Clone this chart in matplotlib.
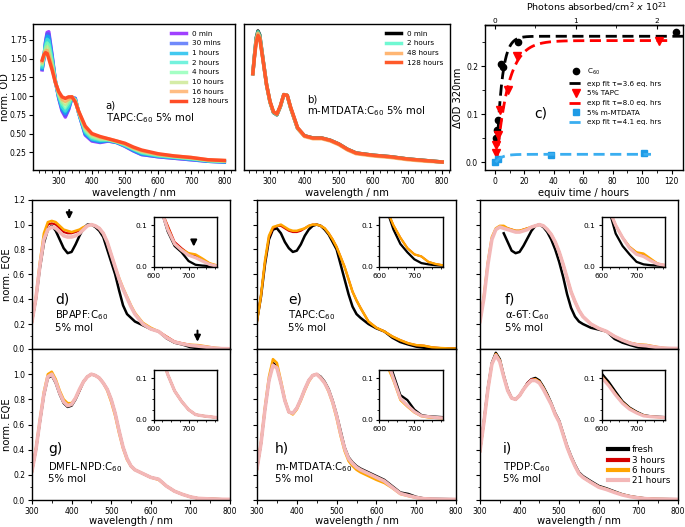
import numpy as np
import matplotlib.pyplot as plt
from matplotlib.ticker import MultipleLocator

plt.rcParams['font.family'] = ['DejaVu Sans']
plt.rcParams['font.size'] = 5.5
plt.rcParams['axes.linewidth'] = 1.0
plt.rcParams['xtick.major.pad'] = 2
plt.rcParams['ytick.major.pad'] = 2
plt.rcParams['xtick.major.size'] = 3
plt.rcParams['ytick.major.size'] = 3

### a) absorption TAPC:C60, normalised spectra vs. illumination time
wl_abs = [250, 255, 260, 265, 270, 280, 290, 300, 310, 320, 330, 340, 350, 360,
          380, 400, 425, 450, 475, 500, 525, 550, 600, 650, 700, 750, 800]
a_0min = [1.35, 1.50, 1.72, 1.85, 1.86, 1.55, 1.20, 0.97, 0.80, 0.72, 0.82, 0.98, 0.97, 0.78,
          0.48, 0.40, 0.38, 0.40, 0.38, 0.33, 0.27, 0.22, 0.19, 0.17, 0.15, 0.13, 0.12]
a_30min = [1.36, 1.50, 1.71, 1.83, 1.83, 1.53, 1.20, 0.98, 0.82, 0.74, 0.83, 0.98, 0.97, 0.78,
           0.49, 0.41, 0.39, 0.40, 0.38, 0.33, 0.27, 0.22, 0.19, 0.17, 0.15, 0.13, 0.12]
a_1h = [1.37, 1.51, 1.69, 1.80, 1.79, 1.51, 1.20, 0.99, 0.83, 0.77, 0.85, 0.98, 0.96, 0.78,
        0.50, 0.42, 0.39, 0.41, 0.38, 0.34, 0.28, 0.23, 0.20, 0.18, 0.16, 0.13, 0.12]
a_2h = [1.39, 1.52, 1.68, 1.76, 1.74, 1.49, 1.19, 1.00, 0.86, 0.80, 0.87, 0.98, 0.95, 0.79,
        0.52, 0.43, 0.41, 0.41, 0.39, 0.34, 0.29, 0.24, 0.20, 0.18, 0.16, 0.14, 0.13]
a_4h = [1.42, 1.53, 1.65, 1.71, 1.68, 1.45, 1.19, 1.02, 0.90, 0.85, 0.91, 0.99, 0.95, 0.79,
        0.54, 0.45, 0.42, 0.42, 0.39, 0.35, 0.30, 0.25, 0.21, 0.19, 0.17, 0.14, 0.13]
a_10h = [1.44, 1.53, 1.62, 1.66, 1.62, 1.41, 1.19, 1.03, 0.93, 0.89, 0.94, 0.99, 0.94, 0.79,
         0.56, 0.47, 0.43, 0.42, 0.39, 0.36, 0.30, 0.26, 0.22, 0.19, 0.17, 0.14, 0.13]
a_16h = [1.46, 1.54, 1.60, 1.61, 1.55, 1.38, 1.18, 1.05, 0.96, 0.93, 0.96, 0.99, 0.93, 0.80,
         0.58, 0.49, 0.45, 0.43, 0.40, 0.36, 0.31, 0.27, 0.22, 0.20, 0.18, 0.15, 0.14]
a_128h = [1.48, 1.55, 1.58, 1.57, 1.50, 1.35, 1.18, 1.06, 0.99, 0.97, 0.99, 0.99, 0.92, 0.80,
          0.60, 0.50, 0.46, 0.43, 0.40, 0.37, 0.32, 0.28, 0.23, 0.20, 0.18, 0.15, 0.14]
a_labels = ['0 min', '30 mins', '1 hours', '2 hours', '4 hours', '10 hours', '16 hours', '128 hours']

### b) absorption m-MTDATA:C60
b_0min = [1.30, 1.55, 1.78, 1.87, 1.82, 1.48, 1.15, 0.92, 0.78, 0.75, 0.86, 1.02, 1.01, 0.84,
          0.57, 0.47, 0.44, 0.44, 0.41, 0.36, 0.29, 0.24, 0.21, 0.19, 0.16, 0.14, 0.12]
b_2h = [1.30, 1.55, 1.77, 1.86, 1.81, 1.48, 1.15, 0.92, 0.78, 0.75, 0.86, 1.02, 1.01, 0.84,
        0.57, 0.47, 0.44, 0.44, 0.41, 0.36, 0.29, 0.24, 0.21, 0.19, 0.16, 0.14, 0.12]
b_48h = [1.30, 1.54, 1.75, 1.84, 1.79, 1.47, 1.15, 0.92, 0.79, 0.76, 0.86, 1.02, 1.01, 0.84,
         0.57, 0.46, 0.43, 0.43, 0.40, 0.35, 0.28, 0.23, 0.20, 0.18, 0.15, 0.13, 0.12]
b_128h = [1.30, 1.53, 1.72, 1.81, 1.77, 1.47, 1.15, 0.93, 0.79, 0.76, 0.87, 1.02, 1.01, 0.85,
          0.58, 0.47, 0.44, 0.44, 0.41, 0.36, 0.29, 0.24, 0.21, 0.19, 0.16, 0.14, 0.12]
b_labels = ['0 min', '2 hours', '48 hours', '128 hours']

### c) delta OD at 320 nm vs. equivalent time
c60_t = [0.7, 1.1, 1.8, 3.8, 5.7, 15.4, 123]
c60_od = [0.050, 0.067, 0.089, 0.205, 0.199, 0.252, 0.272]
tapc_t = [0.5, 1.0, 2.3, 3.4, 9.0, 14.7, 111.6]
tapc_od = [0.020, 0.036, 0.057, 0.108, 0.151, 0.222, 0.254]
mtdata_t = [0.0, 2.3, 38, 101]
mtdata_od = [0.0, 0.006, 0.015, 0.019]
fit_amp = [0.263, 0.254, 0.0165]
fit_tau = [3.6, 8.0, 4.1]
fit_t0 = [1.0, 1.0, 0.5]
fit_tmax = [128, 117, 106]

### d)-i) normalised EQE
wl_eqe = [300, 310, 320, 330, 340, 350, 360, 370, 380, 390, 400, 410, 420, 430, 440, 450,
          460, 470, 480, 490, 500, 510, 520, 530, 540, 550, 560, 580, 600, 620, 640, 660,
          680, 700, 720, 740, 760, 780, 800]
nan = np.nan
d_fresh = [0.22, 0.40, 0.65, 0.85, 0.96, 0.99, 0.95, 0.88, 0.81, 0.77, 0.78, 0.84, 0.91, 0.97, 1.00, 1.00,
           0.98, 0.95, 0.90, 0.80, 0.70, 0.60, 0.47, 0.35, 0.28, 0.25, 0.22, 0.19, 0.16, 0.14, 0.085, 0.05,
           0.035, 0.014, 0.005, 0.003, 0.002, 0.001, 0.0]
d_3h = [0.22, 0.41, 0.68, 0.90, 1.00, 1.01, 1.00, 0.97, 0.94, 0.93, 0.93, 0.94, 0.95, 0.97, 0.99, 1.00,
        0.99, 0.97, 0.93, 0.86, 0.76, 0.66, 0.56, 0.48, 0.41, 0.34, 0.28, 0.20, 0.165, 0.14, 0.10, 0.06,
        0.045, 0.032, 0.027, 0.018, 0.008, 0.003, 0.001]
d_6h = [0.22, 0.42, 0.70, 0.93, 1.02, 1.03, 1.02, 0.99, 0.96, 0.95, 0.94, 0.95, 0.96, 0.98, 0.99, 1.00,
        0.99, 0.97, 0.93, 0.86, 0.76, 0.66, 0.57, 0.49, 0.42, 0.35, 0.29, 0.21, 0.17, 0.14, 0.095, 0.055,
        0.042, 0.033, 0.030, 0.020, 0.009, 0.004, 0.002]
d_21h = [0.22, 0.41, 0.67, 0.88, 0.96, 0.98, 0.97, 0.94, 0.91, 0.90, 0.90, 0.91, 0.93, 0.96, 0.99, 1.00,
         0.99, 0.97, 0.93, 0.86, 0.76, 0.66, 0.56, 0.48, 0.41, 0.34, 0.28, 0.20, 0.16, 0.14, 0.09, 0.055,
         0.04, 0.028, 0.022, 0.014, 0.006, 0.002, 0.001]

e_fresh = [0.23, 0.42, 0.68, 0.88, 0.96, 0.97, 0.93, 0.86, 0.81, 0.78, 0.79, 0.84, 0.91, 0.96, 0.99, 1.00,
           0.99, 0.96, 0.92, 0.86, 0.80, 0.68, 0.56, 0.44, 0.34, 0.28, 0.25, 0.20, 0.165, 0.14, 0.09, 0.055,
           0.035, 0.018, 0.009, 0.006, 0.004, 0.003, 0.002]
e_3h = [0.22, 0.43, 0.70, 0.90, 0.97, 0.99, 0.99, 0.97, 0.95, 0.94, 0.94, 0.95, 0.97, 0.99, 1.00, 1.00,
        0.99, 0.97, 0.93, 0.88, 0.82, 0.74, 0.66, 0.56, 0.46, 0.39, 0.33, 0.22, 0.17, 0.14, 0.10, 0.07,
        0.045, 0.03, 0.025, 0.012, 0.007, 0.004, 0.003]
e_6h = [0.22, 0.43, 0.71, 0.91, 0.98, 0.99, 1.00, 0.98, 0.96, 0.95, 0.95, 0.96, 0.97, 0.99, 1.00, 1.00,
        0.99, 0.97, 0.93, 0.88, 0.82, 0.74, 0.66, 0.56, 0.46, 0.39, 0.33, 0.22, 0.17, 0.14, 0.10, 0.07,
        0.045, 0.03, 0.025, 0.012, 0.007, 0.004, 0.003]
e_21h = None   # no 21 hours curve in e)

f_fresh = [nan, nan, nan, nan, nan, nan, 0.93, 0.86, 0.79, 0.77, 0.78, 0.83, 0.89, 0.95, 0.99, 1.00,
           0.98, 0.94, 0.88, 0.80, 0.70, 0.58, 0.44, 0.33, 0.26, 0.22, 0.20, 0.17, 0.155, 0.14, 0.08, 0.05,
           0.03, 0.012, 0.006, 0.004, 0.003, 0.002, 0.001]
f_3h = [0.22, 0.42, 0.69, 0.89, 0.96, 0.98, 0.98, 0.97, 0.96, 0.95, 0.95, 0.96, 0.97, 0.98, 0.99, 1.00,
        0.99, 0.96, 0.92, 0.86, 0.78, 0.68, 0.57, 0.46, 0.38, 0.31, 0.26, 0.20, 0.165, 0.14, 0.10, 0.07,
        0.048, 0.034, 0.030, 0.018, 0.008, 0.004, 0.003]
f_6h = [0.22, 0.43, 0.70, 0.90, 0.97, 0.99, 0.99, 0.97, 0.96, 0.95, 0.95, 0.96, 0.97, 0.98, 0.99, 1.00,
        0.99, 0.96, 0.92, 0.86, 0.78, 0.68, 0.57, 0.46, 0.38, 0.31, 0.26, 0.20, 0.165, 0.14, 0.10, 0.07,
        0.048, 0.035, 0.032, 0.020, 0.008, 0.004, 0.003]
f_21h = [0.22, 0.41, 0.68, 0.88, 0.96, 0.98, 0.97, 0.96, 0.95, 0.94, 0.94, 0.95, 0.96, 0.98, 0.99, 1.00,
         0.99, 0.96, 0.92, 0.86, 0.78, 0.68, 0.57, 0.46, 0.38, 0.31, 0.26, 0.20, 0.165, 0.14, 0.10, 0.07,
         0.045, 0.03, 0.025, 0.015, 0.007, 0.004, 0.003]

g_fresh = [0.23, 0.40, 0.62, 0.83, 0.97, 0.99, 0.93, 0.84, 0.77, 0.74, 0.75, 0.80, 0.87, 0.94, 0.98, 1.00,
           0.99, 0.97, 0.93, 0.88, 0.80, 0.69, 0.55, 0.42, 0.33, 0.27, 0.24, 0.21, 0.18, 0.165, 0.11, 0.07,
           0.045, 0.025, 0.013, 0.010, 0.008, 0.006, 0.005]
g_3h = [0.23, 0.40, 0.63, 0.84, 0.98, 1.00, 0.94, 0.85, 0.78, 0.75, 0.76, 0.81, 0.87, 0.94, 0.98, 1.00,
        0.99, 0.97, 0.93, 0.88, 0.80, 0.69, 0.55, 0.42, 0.33, 0.27, 0.24, 0.21, 0.18, 0.165, 0.11, 0.07,
        0.045, 0.025, 0.013, 0.010, 0.008, 0.006, 0.005]
g_6h = [0.23, 0.41, 0.64, 0.86, 1.00, 1.02, 0.96, 0.87, 0.80, 0.77, 0.77, 0.81, 0.88, 0.94, 0.98, 1.00,
        0.99, 0.97, 0.93, 0.87, 0.78, 0.67, 0.53, 0.41, 0.32, 0.27, 0.24, 0.21, 0.18, 0.16, 0.11, 0.07,
        0.045, 0.025, 0.013, 0.010, 0.008, 0.006, 0.005]
g_21h = [0.23, 0.40, 0.63, 0.84, 0.98, 1.00, 0.94, 0.85, 0.78, 0.75, 0.76, 0.81, 0.88, 0.94, 0.98, 1.00,
         0.99, 0.97, 0.93, 0.88, 0.80, 0.69, 0.55, 0.42, 0.33, 0.27, 0.24, 0.21, 0.18, 0.165, 0.11, 0.07,
         0.045, 0.025, 0.013, 0.010, 0.008, 0.006, 0.005]

h_fresh = [0.25, 0.45, 0.72, 0.95, 1.09, 1.06, 0.93, 0.79, 0.70, 0.69, 0.73, 0.80, 0.88, 0.95, 0.99, 1.00,
           0.98, 0.94, 0.88, 0.79, 0.68, 0.55, 0.42, 0.34, 0.30, 0.27, 0.25, 0.22, 0.19, 0.16, 0.11, 0.06,
           0.048, 0.025, 0.012, 0.009, 0.008, 0.007, 0.006]
h_3h = [0.25, 0.45, 0.72, 0.95, 1.08, 1.05, 0.93, 0.79, 0.70, 0.69, 0.73, 0.80, 0.88, 0.95, 0.99, 1.00,
        0.97, 0.93, 0.87, 0.78, 0.67, 0.53, 0.41, 0.33, 0.29, 0.26, 0.24, 0.21, 0.18, 0.15, 0.10, 0.052,
        0.035, 0.02, 0.01, 0.008, 0.006, 0.005, 0.005]
h_6h = [0.25, 0.46, 0.74, 0.98, 1.12, 1.09, 0.95, 0.80, 0.70, 0.68, 0.72, 0.79, 0.87, 0.94, 0.99, 1.00,
        0.97, 0.93, 0.86, 0.77, 0.65, 0.51, 0.39, 0.31, 0.27, 0.24, 0.22, 0.19, 0.16, 0.135, 0.095, 0.048,
        0.032, 0.018, 0.009, 0.006, 0.005, 0.004, 0.004]
h_21h = [0.25, 0.45, 0.72, 0.95, 1.07, 1.05, 0.93, 0.79, 0.70, 0.69, 0.73, 0.80, 0.88, 0.95, 0.99, 1.00,
         0.97, 0.93, 0.87, 0.78, 0.67, 0.53, 0.41, 0.33, 0.29, 0.26, 0.24, 0.21, 0.18, 0.15, 0.10, 0.052,
         0.035, 0.02, 0.01, 0.008, 0.006, 0.005, 0.005]

i_fresh = [0.39, 0.63, 0.89, 1.09, 1.17, 1.12, 0.99, 0.88, 0.81, 0.80, 0.83, 0.88, 0.93, 0.96, 0.97, 0.95,
           0.90, 0.84, 0.77, 0.69, 0.63, 0.53, 0.43, 0.35, 0.28, 0.22, 0.19, 0.15, 0.112, 0.092, 0.068, 0.045,
           0.03, 0.02, 0.012, 0.009, 0.008, 0.007, 0.006]
i_3h = [0.39, 0.62, 0.88, 1.08, 1.16, 1.11, 0.98, 0.87, 0.81, 0.80, 0.83, 0.88, 0.93, 0.96, 0.96, 0.94,
        0.89, 0.83, 0.76, 0.68, 0.62, 0.52, 0.42, 0.34, 0.27, 0.21, 0.18, 0.14, 0.105, 0.085, 0.062, 0.042,
        0.028, 0.018, 0.011, 0.008, 0.007, 0.006, 0.005]
i_6h = [0.39, 0.62, 0.88, 1.08, 1.16, 1.11, 0.98, 0.87, 0.81, 0.80, 0.83, 0.88, 0.92, 0.95, 0.96, 0.94,
        0.89, 0.83, 0.76, 0.68, 0.62, 0.52, 0.42, 0.34, 0.27, 0.21, 0.18, 0.14, 0.105, 0.085, 0.062, 0.042,
        0.028, 0.018, 0.011, 0.008, 0.007, 0.006, 0.005]
i_21h = [0.39, 0.62, 0.88, 1.08, 1.15, 1.10, 0.98, 0.87, 0.81, 0.80, 0.83, 0.88, 0.92, 0.95, 0.95, 0.93,
         0.88, 0.82, 0.76, 0.68, 0.62, 0.52, 0.42, 0.34, 0.27, 0.21, 0.18, 0.14, 0.102, 0.083, 0.06, 0.04,
         0.026, 0.017, 0.010, 0.008, 0.007, 0.006, 0.005]

eqe_labels = ['fresh', '3 hours', '6 hours', '21 hours']
eqe_colors = ['black', '#d40000', 'orange', '#f3b7b7']
eqe_lw = [1.8, 1.5, 1.8, 2.6]

fs_lab = 7.2     # axis labels
fs_txt = 7.3     # sample names
fs_tag = 10      # d) e) ...

fig = plt.figure(figsize=(6.85, 5.27), dpi=100)

#################### a)
ax_a = fig.add_axes([0.048, 0.677, 0.295, 0.277])
a_curves = [a_0min, a_30min, a_1h, a_2h, a_4h, a_10h, a_16h, a_128h]
a_cols = plt.cm.rainbow(np.linspace(0, 0.9, len(a_curves)))
for k, y in enumerate(a_curves):
    alpha = 1.0 if k == len(a_curves) - 1 else 0.75
    ax_a.plot(wl_abs, y, color=a_cols[k], lw=2.5, alpha=alpha, label=a_labels[k])
ax_a.set_xlim(222, 832)
ax_a.set_ylim(0.01, 1.96)
ax_a.set_xticks([300, 400, 500, 600, 700, 800])
ax_a.set_yticks([0.25, 0.5, 0.75, 1.0, 1.25, 1.5, 1.75])
ax_a.xaxis.set_minor_locator(MultipleLocator(20))
ax_a.tick_params(axis='y', pad=1.5)
ax_a.set_xlabel('wavelength / nm', fontsize=fs_lab, labelpad=1)
ax_a.set_ylabel('norm. OD', fontsize=fs_lab, labelpad=0)
ax_a.legend(loc='upper right', fontsize=5.2, frameon=False, labelspacing=0.5,
            handlelength=2.1, borderaxespad=0.5)
ax_a.text(442, 0.87, 'a)', fontsize=fs_txt, va='center')
ax_a.text(442, 0.70, 'TAPC:C$_{60}$ 5% mol', fontsize=fs_txt, va='center')

#################### b)
ax_b = fig.add_axes([0.356, 0.677, 0.301, 0.277])
b_curves = [b_0min, b_2h, b_48h, b_128h]
b_cols = ['black', plt.cm.rainbow(0.42), '#ffaa5a', '#ff5a2a']
for k, y in enumerate(b_curves):
    ax_b.plot(wl_abs, y, color=b_cols[k], lw=2.5, alpha=0.85 if k in (1, 2) else 1.0,
              label=b_labels[k])
ax_b.set_xlim(224, 823)
ax_b.set_ylim(0.01, 1.96)
ax_b.set_xticks([300, 400, 500, 600, 700, 800])
ax_b.xaxis.set_minor_locator(MultipleLocator(20))
ax_b.set_yticks([])
ax_b.set_xlabel('wavelength / nm', fontsize=fs_lab, labelpad=1)
ax_b.legend(loc='upper right', fontsize=5.2, frameon=False, labelspacing=0.5,
            handlelength=2.1, borderaxespad=0.5)
ax_b.text(407, 0.96, 'b)', fontsize=fs_txt, va='center')
ax_b.text(407, 0.80, 'm-MTDATA:C$_{60}$ 5% mol', fontsize=fs_txt, va='center')

#################### c)
ax_c = fig.add_axes([0.708, 0.677, 0.289, 0.276])
fit_cols = ['black', 'red', '#3aaef0']
ax_c.plot(c60_t, c60_od, 'o', color='black', ms=4.5, label='C$_{60}$')
t = np.linspace(fit_t0[0], fit_tmax[0], 300)
ax_c.plot(t, fit_amp[0] * (1 - np.exp(-(t - fit_t0[0]) / fit_tau[0])), ls=(0, (4, 2)),
          color=fit_cols[0], lw=2, label='exp fit τ=3.6 eq. hrs')
ax_c.plot(tapc_t, tapc_od, 'v', color='red', ms=5.5, label='5% TAPC')
t = np.linspace(fit_t0[1], fit_tmax[1], 300)
ax_c.plot(t, fit_amp[1] * (1 - np.exp(-(t - fit_t0[1]) / fit_tau[1])), ls=(0, (4, 2)),
          color=fit_cols[1], lw=2, label='exp fit τ=8.0 eq. hrs')
ax_c.plot(mtdata_t, mtdata_od, 's', color='#1e9be6', ms=4.5, label='5% m-MTDATA')
t = np.linspace(fit_t0[2], fit_tmax[2], 300)
ax_c.plot(t, fit_amp[2] * (1 - np.exp(-(t - fit_t0[2]) / fit_tau[2])), ls=(0, (4, 2)),
          color=fit_cols[2], lw=2, label='exp fit τ=4.1 eq. hrs')
ax_c.set_xlim(-6.8, 127.7)
ax_c.set_ylim(-0.0167, 0.287)
ax_c.set_xticks([0, 20, 40, 60, 80, 100, 120])
ax_c.xaxis.set_minor_locator(MultipleLocator(10))
ax_c.set_yticks([0.0, 0.1, 0.2])
ax_c.yaxis.set_minor_locator(MultipleLocator(0.05))
ax_c.set_xlabel('equiv time / hours', fontsize=fs_lab, labelpad=1)
ax_c.set_ylabel('ΔOD 320nm', fontsize=fs_lab, labelpad=2)
ax_c.legend(loc='upper left', bbox_to_anchor=(0.41, 0.73), fontsize=5.2, frameon=False,
            labelspacing=0.5, handlelength=1.9, handletextpad=0.6, borderaxespad=0)
ax_c.text(27, 0.102, 'c)', fontsize=fs_tag, va='center')
top = ax_c.secondary_xaxis('top', functions=(lambda h: h / 55.0, lambda p: p * 55.0))
top.set_xticks([0, 1, 2])
top.xaxis.set_minor_locator(MultipleLocator(0.5))
top.tick_params(direction='in', which='both', pad=0.5, labelsize=5.3)
# top axis title placed as figure text so it stays inside the canvas
fig.text(597 / 685, 0.999, r'Photons absorbed/cm$^2$ $x\ 10^{21}$', fontsize=6.8,
         ha='center', va='top')

#################### d)-i) EQE panels
panels = [
    ('d)', 'BPAPF:C$_{60}$', [d_fresh, d_3h, d_6h, d_21h], [0.0467, 0.338, 0.289, 0.283], 0.117),
    ('e)', 'TAPC:C$_{60}$', [e_fresh, e_3h, e_6h, e_21h], [0.3752, 0.338, 0.2905, 0.283], 0.156),
    ('f)', 'α-6T:C$_{60}$', [f_fresh, f_3h, f_6h, f_21h], [0.7007, 0.338, 0.289, 0.283], 0.126),
    ('g)', 'DMFL-NPD:C$_{60}$', [g_fresh, g_3h, g_6h, g_21h], [0.0467, 0.0512, 0.289, 0.2865], 0.082),
    ('h)', 'm-MTDATA:C$_{60}$', [h_fresh, h_3h, h_6h, h_21h], [0.3752, 0.0512, 0.2905, 0.2865], 0.09),
    ('i)', 'TPDP:C$_{60}$', [i_fresh, i_3h, i_6h, i_21h], [0.7007, 0.0512, 0.289, 0.2865], 0.116),
]

axes_eqe = []
for n, (tag, name, curves, rect, tx) in enumerate(panels):
    ax = fig.add_axes(rect)
    ins = ax.inset_axes([0.615, 0.55, 0.32, 0.335] if n < 3 else [0.615, 0.53, 0.32, 0.33])
    for k, y in enumerate(curves):
        if y is None:
            continue
        ax.plot(wl_eqe, y, color=eqe_colors[k], lw=eqe_lw[k], label=eqe_labels[k])
        ins.plot(wl_eqe, y, color=eqe_colors[k], lw=eqe_lw[k] * 0.9)
    ax.set_xlim(300, 800)
    ax.set_ylim(0, 1.2)
    ax.xaxis.set_major_locator(MultipleLocator(100))
    ax.xaxis.set_minor_locator(MultipleLocator(50))
    ax.yaxis.set_minor_locator(MultipleLocator(0.1))
    if n < 3:
        ax.set_yticks([0, 0.2, 0.4, 0.6, 0.8, 1.0, 1.2])
        ax.tick_params(labelbottom=False)
    else:
        ax.set_yticks([0, 0.2, 0.4, 0.6, 0.8, 1.0])
        ax.set_xlabel('wavelength / nm', fontsize=fs_lab, labelpad=0)
    if n in (0, 3):
        ax.set_ylabel('norm. EQE', fontsize=fs_lab, labelpad=1)
    else:
        ax.tick_params(labelleft=False)
    ax.tick_params(which='minor', length=1.8)

    # label block
    ya = [0.33, 0.225, 0.14] if n < 3 else [0.34, 0.22, 0.14]
    ax.text(tx, ya[0], tag, transform=ax.transAxes, fontsize=fs_tag, va='center')
    ax.text(tx, ya[1], name, transform=ax.transAxes, fontsize=fs_txt, va='center')
    ax.text(tx, ya[2], '5% mol', transform=ax.transAxes, fontsize=fs_txt, va='center')

    # inset: long wavelength tail
    ins.set_xlim(600, 782)
    ins.set_ylim(0, 0.12)
    ins.set_xticks([600, 700])
    ins.xaxis.set_minor_locator(MultipleLocator(25))
    ins.set_yticks([0.0, 0.1])
    ins.yaxis.set_minor_locator(MultipleLocator(0.025))
    ins.tick_params(labelsize=5.3, length=2.5, pad=2)
    ins.tick_params(which='minor', length=1.5)
    axes_eqe.append((ax, ins))

# arrows in d)
ax_d, ins_d = axes_eqe[0]
arr = dict(arrowstyle='-|>', color='black', lw=1.4, mutation_scale=9)
ax_d.annotate('', xy=(394, 1.02), xytext=(394, 1.14), arrowprops=arr)
ax_d.annotate('', xy=(718, 0.035), xytext=(718, 0.17), arrowprops=arr)
ins_d.annotate('', xy=(715, 0.042), xytext=(715, 0.068), arrowprops=arr)

# legend in i)
ax_i = axes_eqe[5][0]
leg = ax_i.legend(loc='lower right', bbox_to_anchor=(1.0, 0.045), fontsize=6.3, frameon=False,
                  labelspacing=0.15, handlelength=2.3, handletextpad=0.4)
for ln in leg.get_lines():
    ln.set_linewidth(3)

plt.savefig('out.png', dpi=100)
